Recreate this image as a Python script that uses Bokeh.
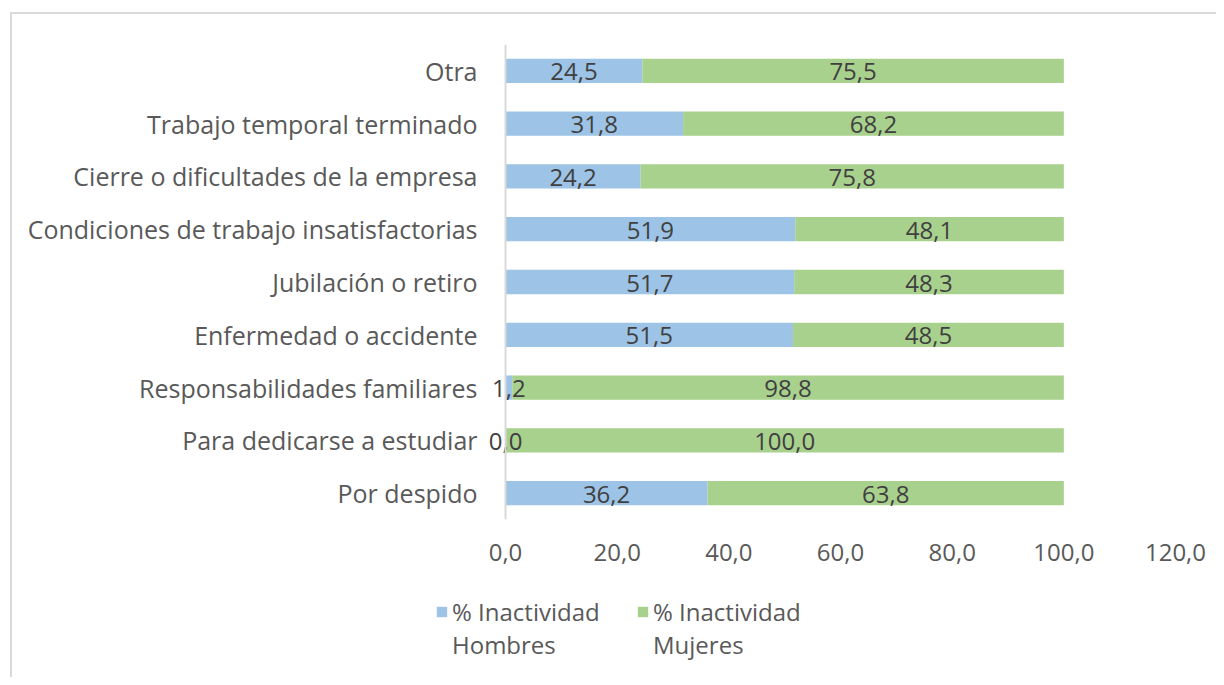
from bokeh.plotting import figure
from bokeh.layouts import column
from bokeh.models import (ColumnDataSource, Legend, LegendItem, FixedTicker,
                          CustomJSTickFormatter, Span)
from bokeh.core.properties import value
from bokeh.embed import file_html
from bokeh.resources import INLINE

categories = ["Por despido", "Para dedicarse a estudiar", "Responsabilidades familiares",
              "Enfermedad o accidente", "Jubilación o retiro",
              "Condiciones de trabajo insatisfactorias", "Cierre o dificultades de la empresa",
              "Trabajo temporal terminado", "Otra"]
hombres = [36.2, 0.0, 1.2, 51.5, 51.7, 51.9, 24.2, 31.8, 24.5]
mujeres = [63.8, 100.0, 98.8, 48.5, 48.3, 48.1, 75.8, 68.2, 75.5]
x_ticks = [0, 20, 40, 60, 80, 100, 120]
legend_line1 = ["% Inactividad", "% Inactividad"]
legend_line2 = ["Hombres", "Mujeres"]

BLUE = "#9DC3E6"
GREEN = "#A9D18E"
TXT = "#595959"
FONT = "Open Sans"
FS = "24px"

def fmt(v):
    return f"{v:.1f}".replace(".", ",")

src = ColumnDataSource(dict(
    cat=categories,
    h_end=hombres,
    m_end=[a + b for a, b in zip(hombres, mujeres)],
    h_mid=[a / 2 for a in hombres],
    m_mid=[a + b / 2 for a, b in zip(hombres, mujeres)],
    h_lab=[fmt(v) for v in hombres],
    m_lab=[fmt(v) for v in mujeres],
))

p = figure(width=1204, height=571, y_range=categories, x_range=(-12.9, 120),
           output_backend="svg", toolbar_location=None,
           min_border_left=421, min_border_right=41, min_border_top=30, min_border_bottom=66)

p.hbar(y="cat", left=0, right="h_end", height=0.46, source=src, color=BLUE, line_color=None)
p.hbar(y="cat", left="h_end", right="m_end", height=0.46, source=src, color=GREEN, line_color=None)
p.add_layout(Span(location=0, dimension="height", line_color="#d9d9d9", line_width=2))

for xcol, tcol in (("h_mid", "h_lab"), ("m_mid", "m_lab")):
    p.text(x=xcol, y="cat", text=tcol, source=src, text_align="center", text_baseline="middle",
           text_font=value(FONT), text_font_size=FS, text_color="#404040", y_offset=1)

p.grid.visible = False
p.outline_line_color = None
p.background_fill_color = "white"
p.border_fill_color = "white"

xa = p.xaxis[0]
xa.ticker = FixedTicker(ticks=x_ticks)
xa.formatter = CustomJSTickFormatter(code="return tick.toFixed(1).replace('.', ',');")
xa.axis_line_color = None
xa.major_tick_line_color = None
xa.minor_tick_line_color = None
xa.major_label_standoff = 18
xa.major_label_text_font = FONT
xa.major_label_text_font_size = FS
xa.major_label_text_color = TXT

ya = p.yaxis[0]
ya.axis_line_color = None
ya.major_tick_line_color = None
ya.minor_tick_line_color = None
ya.major_tick_out = 0
ya.major_tick_in = 0
ya.major_label_standoff = -44
ya.major_label_text_font = FONT
ya.major_label_text_font_size = "25px"
ya.major_label_text_color = TXT

# legend figure below the chart (its frame aligns with the chart frame)
p2 = figure(width=1204, height=92, output_backend="svg", toolbar_location=None,
            x_range=(0, 1), y_range=(0, 1), x_axis_location=None, y_axis_location=None,
            min_border_left=421, min_border_right=41, min_border_top=8, min_border_bottom=0)
p2.grid.visible = False
p2.outline_line_color = None
proxy = ColumnDataSource(dict(y=[0.5], r=[1.0]))
l1 = p2.hbar(y="y", right="r", height=0.5, source=proxy, color=BLUE, line_color=None, visible=False)
l2 = p2.hbar(y="y", right="r", height=0.5, source=proxy, color=GREEN, line_color=None, visible=False)
l3 = p2.hbar(y="y", right="r", height=0.5, source=proxy, fill_alpha=0, line_alpha=0, visible=False)
legend = Legend(items=[LegendItem(label=legend_line1[0], renderers=[l1]),
                       LegendItem(label=legend_line1[1], renderers=[l2]),
                       LegendItem(label=legend_line2[0], renderers=[l3]),
                       LegendItem(label=legend_line2[1], renderers=[l3])],
                orientation="horizontal", ncols=2, location="top_left",
                label_text_font=FONT, label_text_font_size=FS, label_text_color=TXT,
                label_width=184, label_height=30,
                glyph_width=13, glyph_height=13, spacing=0, label_standoff=4,
                inactive_fill_alpha=0,
                border_line_color=None, background_fill_alpha=0, padding=0, margin=2)
p2.add_layout(legend, "center")

layout = column(p, p2, spacing=0)
layout.styles = {"border-top": "2px solid #d9d9d9", "border-left": "2px solid #d9d9d9",
                 "margin-left": "10px", "margin-top": "12px"}

open("out.html", "w").write(file_html(layout, INLINE))
